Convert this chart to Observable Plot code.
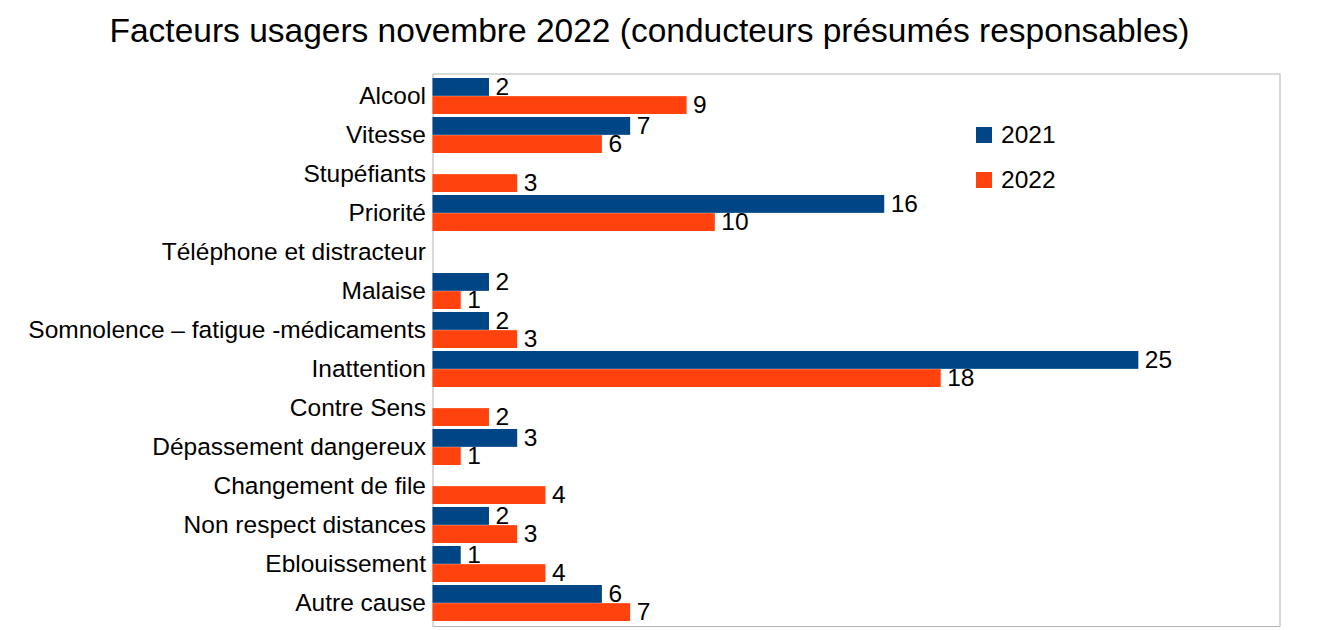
<!DOCTYPE html>
<html>
<head>
<meta charset="utf-8">
<script src="https://cdn.jsdelivr.net/npm/d3@7"></script>
<script src="https://cdn.jsdelivr.net/npm/@observablehq/plot@0.6"></script>
<style>
  html, body { margin: 0; padding: 0; background: #fff; }
  body { width: 1326px; height: 630px; overflow: hidden; font-family: "Liberation Sans", Arial, sans-serif; }
  #wrap { position: relative; width: 1326px; height: 630px; }
  #title { position: absolute; left: 0; top: 0; width: 1299px; height: 60px; box-sizing: border-box;
           padding-top: 12px; font-size: 33.5px; line-height: 38px; text-align: center; color: #000; white-space: nowrap; }
  #chart { position: absolute; left: 0; top: 60px; line-height: 0; }
  #chart svg { display: block; }
  #legend { position: absolute; left: 976px; top: 0; font-size: 24.5px; color: #000; }
  .lg { position: absolute; left: 0; display: flex; align-items: center; white-space: nowrap; height: 24px; }
  .sw { width: 16px; height: 16px; margin-right: 9px; }
</style>
</head>
<body>
<div id="wrap">
  <div id="title">Facteurs usagers novembre 2022 (conducteurs présumés responsables)</div>
  <div id="chart"></div>
  <div id="legend"></div>
</div>
<script>
const categories = [
  "Alcool",
  "Vitesse",
  "Stupéfiants",
  "Priorité",
  "Téléphone et distracteur",
  "Malaise",
  "Somnolence – fatigue -médicaments",
  "Inattention",
  "Contre Sens",
  "Dépassement dangereux",
  "Changement de file",
  "Non respect distances",
  "Eblouissement",
  "Autre cause"
];
const series = ["2021", "2022"];
const values2021 = [2, 7, null, 16, null, 2, 2, 25, null, 3, null, 2, 1, 6];
const values2022 = [9, 6, 3, 10, null, 1, 3, 18, 2, 1, 4, 3, 4, 7];
const colors = ["#004586", "#ff420e"];

const data = [];
categories.forEach((c, i) => {
  if (values2021[i] != null) data.push({category: c, year: "2021", value: values2021[i]});
  if (values2022[i] != null) data.push({category: c, year: "2022", value: values2022[i]});
});
const d21 = data.filter(d => d.year === "2021");
const d22 = data.filter(d => d.year === "2022");

const width = 1326, height = 570;
const marginTop = 13.5, marginBottom = 4, marginLeft = 432.5, marginRight = 46.5;
const padInner = 0.08;
const step = (height - marginTop - marginBottom) / categories.length;
const bw = step * (1 - padInner);
const half = bw / 2;

const plot = Plot.plot({
  width, height, marginTop, marginBottom, marginLeft, marginRight,
  style: {fontFamily: "'Liberation Sans', Arial, sans-serif", fontSize: "24.5px", color: "#000", background: "#fff"},
  x: {domain: [0, 30], axis: null},
  y: {domain: categories, paddingInner: padInner, paddingOuter: padInner / 2, label: null, axis: null},
  marks: [
    Plot.frame({stroke: "#b3b3b3", strokeWidth: 1}),
    Plot.barX(d21, {x: "value", y: "category", fill: colors[0], insetBottom: half}),
    Plot.barX(d22, {x: "value", y: "category", fill: colors[1], insetTop: half}),
    Plot.text(d21, {x: "value", y: "category", text: d => String(d.value), dy: -half / 2, dx: 6, textAnchor: "start", fill: "#000", fontSize: 24.5}),
    Plot.text(d22, {x: "value", y: "category", text: d => String(d.value), dy: half / 2, dx: 6, textAnchor: "start", fill: "#000", fontSize: 24.5}),
    Plot.axisY({tickSize: 0, tickPadding: 7, fontSize: 24.5, fill: "#000", label: null})
  ]
});
document.getElementById("chart").appendChild(plot);

const legend = document.getElementById("legend");
const rowCenters = [135, 180];
series.forEach((s, i) => {
  const row = document.createElement("div");
  row.className = "lg";
  row.style.top = (rowCenters[i] - 12) + "px";
  const sw = document.createElement("div");
  sw.className = "sw";
  sw.style.background = colors[i];
  const t = document.createElement("span");
  t.textContent = s;
  row.appendChild(sw);
  row.appendChild(t);
  legend.appendChild(row);
});
</script>
</body>
</html>
